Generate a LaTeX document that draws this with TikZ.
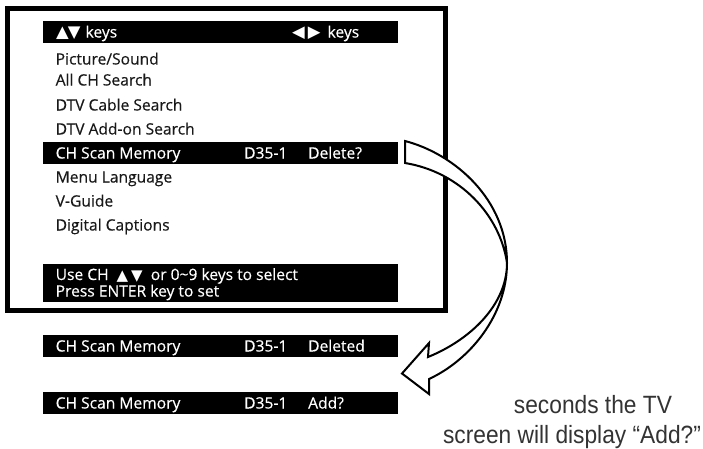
\documentclass[tikz,border=0pt]{standalone}
\usepackage{fontspec}
\setmainfont[FakeBold=0.35]{Open Sans}
\newfontfamily\symfont{DejaVu Sans}
\newfontfamily\capfont[FakeStretch=0.91]{Liberation Sans}
\newcommand{\keytri}{\symfont\fontsize{15pt}{17pt}\selectfont}
\newcommand{\headtri}{\symfont\fontsize{16.5pt}{18pt}\selectfont}
\tikzset{
  lbl/.style={anchor=base west,inner sep=0pt,font=\fontsize{15.6pt}{17pt}\selectfont,text=black!90},
  wlbl/.style={lbl,text=white},
  bar/.style={fill=black,draw=none},
  capt/.style={anchor=base,inner sep=0pt,font=\capfont\fontsize{25pt}{28pt}\selectfont,text=black!80},
  bigarrow/.style={draw=black,line width=2pt,fill=white,line join=miter}
}
\begin{document}
\begin{tikzpicture}[x=1pt,y=-1pt]
\useasboundingbox (0,0) rectangle (703,448);
\fill[white] (0,0) rectangle (703,448);
\node[draw=black,line width=5pt,minimum width=438pt,minimum height=302pt,inner sep=0pt,anchor=north west] (frame) at (5,6) {};
\fill[bar] (42.5,20.5) rectangle (398,42.5);
\fill[bar] (42.5,142) rectangle (398,164);
\fill[bar] (42.5,264) rectangle (398,302);
\fill[bar] (42.5,335) rectangle (398,357);
\fill[bar] (42.5,392) rectangle (398,414);
\node[wlbl] (hk1) at (56,37.5) {{\headtri ▲\kern-1pt▼}\kern5pt keys};
\node[wlbl] (hk2) at (292,37.5) {{\headtri ◀\kern3pt▶}\kern7pt keys};
\node[lbl] (m1) at (55.5,64.5) {Picture/Sound};
\node[lbl] (m2) at (55.5,85.5) {All CH Search};
\node[lbl] (m3) at (55.5,110.5) {DTV Cable Search};
\node[lbl] (m4) at (55.5,134.5) {DTV Add-on Search};
\node[wlbl] (s1) at (55.5,158.5) {CH Scan Memory};
\node[wlbl] (s2) at (244,158.5) {D35-1};
\node[wlbl] (s3) at (308,158.5) {Delete?};
\node[lbl] (m5) at (55.5,182.5) {Menu Language};
\node[lbl] (m6) at (55.5,206.5) {V-Guide};
\node[lbl] (m7) at (55.5,230.5) {Digital Captions};
\node[wlbl] (f1) at (55.5,280) {Use CH\kern4pt{} {\keytri ▲\kern3pt▼}\kern4pt{} or 0\char`\~9 keys to select};
\node[wlbl] (f2) at (55.5,296.5) {Press ENTER key to set};
\node[wlbl] (d1) at (55.5,351.5) {CH Scan Memory};
\node[wlbl] (d2) at (244,351.5) {D35-1};
\node[wlbl] (d3) at (308,351.5) {Deleted};
\node[wlbl] (a1) at (55.5,408.5) {CH Scan Memory};
\node[wlbl] (a2) at (244,408.5) {D35-1};
\node[wlbl] (a3) at (308,408.5) {Add?};
\node[capt] (c1) at (593,413) {seconds the TV};
\node[capt] (c2) at (572,443) {screen will display “Add?”};
\draw[bigarrow] (405,141)
  .. controls (455,154) and (507,200) .. (507,263)
  .. controls (507,315) and (470,360) .. (429,379)
  -- (429,394) -- (402,373.5) -- (429,343) -- (428,357)
  .. controls (470,340) and (507,305) .. (507,263)
  .. controls (500,215) and (460,172) .. (405,163)
  -- cycle;
\end{tikzpicture}
\end{document}
